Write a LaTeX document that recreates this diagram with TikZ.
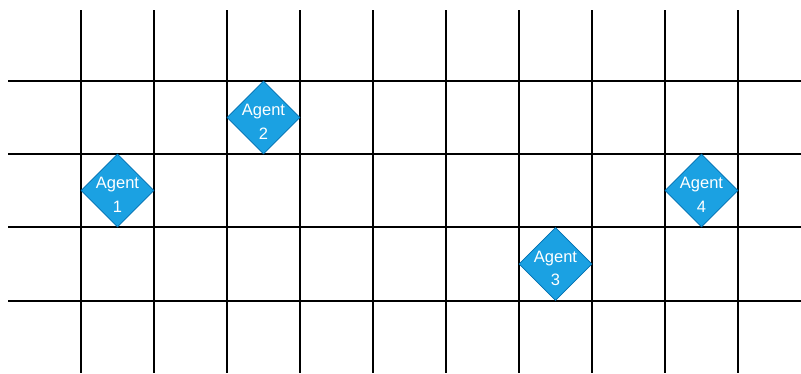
\documentclass[tikz,border=0pt]{standalone}
\usepackage{fontspec}
\setmainfont{Liberation Sans}
\usetikzlibrary{shapes.geometric}
\definecolor{agentfill}{HTML}{1BA1E2}
\definecolor{agentline}{HTML}{006EAF}
\tikzset{
  gridline/.style={black, line width=1.5pt},
  agent/.style={diamond, fill=agentfill, draw=agentline, line width=0.8pt, minimum width=73pt, minimum height=73pt, inner sep=0pt},
  agenttext/.style={text=white, align=center, inner sep=0pt, font=\fontsize{16.5}{23.5}\selectfont, yshift=-4.35pt}
}
\begin{document}
\begin{tikzpicture}[x=1pt,y=-1pt]
\useasboundingbox (0,0) rectangle (801,373);
% vertical lines
\foreach \i in {0,...,9} {
  \coordinate (vt\i) at (81+73*\i,10);
  \coordinate (vb\i) at (81+73*\i,373);
  \draw[gridline] (vt\i) -- (vb\i);
}
% horizontal lines
\foreach \y [count=\j] in {81,154,227,301} {
  \coordinate (hl\j) at (8,\y);
  \coordinate (hr\j) at (801,\y);
  \draw[gridline] (hl\j) -- (hr\j);
}
\node[agent] (a1) at (117.5,190.5) {};
\node[agent] (a2) at (263.5,117.5) {};
\node[agent] (a3) at (555.5,264) {};
\node[agent] (a4) at (701.5,190.5) {};
\node[agenttext] (t1) at (a1) {Agent\\1};
\node[agenttext] (t2) at (a2) {Agent\\2};
\node[agenttext] (t3) at (a3) {Agent\\3};
\node[agenttext] (t4) at (a4) {Agent\\4};
\end{tikzpicture}
\end{document}
